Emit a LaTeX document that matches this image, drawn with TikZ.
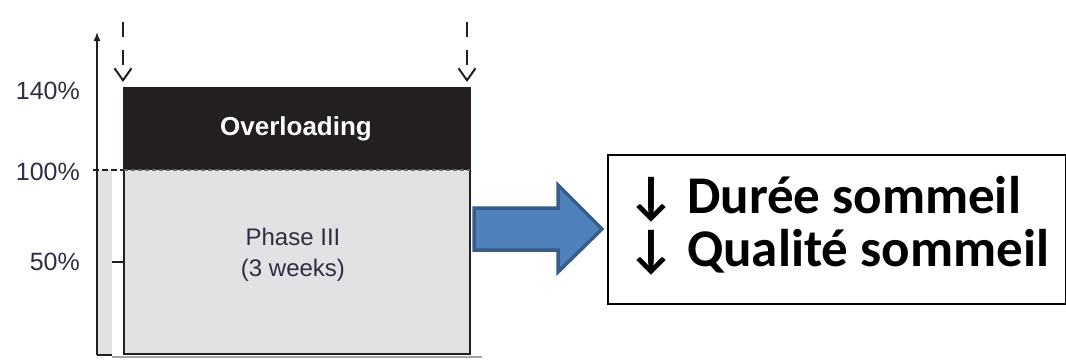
\documentclass[tikz,border=0pt]{standalone}
\usepackage{fontspec}
\setmainfont{Liberation Sans}
\newfontfamily\calib{Carlito}
\usetikzlibrary{arrows.meta}
\definecolor{lblc}{HTML}{2E2E44}
\definecolor{boxgrey}{HTML}{E2E2E4}
\definecolor{darkfill}{HTML}{231F20}
\definecolor{bluefill}{HTML}{4F81BD}
\definecolor{blueedge}{HTML}{385D8A}
\tikzset{
  pct/.style={anchor=east, text=lblc, font=\fontsize{25}{29}\selectfont, inner sep=0pt},
  phasetxt/.style={text=lblc, font=\fontsize{24}{28}\selectfont, inner sep=0pt, align=center},
  dasharrow/.style={line width=2.5pt, draw=darkfill, dash pattern=on 15pt off 13pt, -{Straight Barb[length=12pt,width=17pt,line width=2pt]}},
  resbox/.style={draw=black, line width=1.5pt, fill=white},
  restxt/.style={font=\calib\bfseries\fontsize{53}{60}\selectfont, anchor=base west, inner sep=0pt}
}
\begin{document}
\begin{tikzpicture}[x=1pt,y=-1pt]
\useasboundingbox (0,0) rectangle (1066,359);
% left grey strip
\fill[boxgrey] (97,170) rectangle (112,355);
% baseline shadow
\draw[gray!70, line width=1.5pt] (112,357) -- (482,357);
% main box
\fill[darkfill] (124,88) rectangle (470,170);
\fill[boxgrey] (124,170) rectangle (470,354);
\draw[darkfill, line width=1.5pt] (124,88) rectangle (470,354);
\draw[darkfill!70, line width=1.5pt, dash pattern=on 4pt off 3pt] (124,170) -- (470,170);
% axis
\coordinate (axbot) at (97,355);
\coordinate (axtop) at (97,32);
\draw[darkfill, line width=1.5pt, -{Latex[length=9pt,width=7pt]}] (axbot) -- (axtop);
\draw[darkfill, line width=1.5pt] (97,355) -- (112,355);
\draw[darkfill, line width=1.5pt] (112,262) -- (124,262);
\draw[darkfill, line width=2pt, dash pattern=on 6pt off 3pt] (93,170) -- (124,170);
% labels
\node[pct] (l140) at (80,91) {140\%};
\node[pct] (l100) at (80,172) {100\%};
\node[pct] (l50) at (80,262) {50\%};
\node[text=white, font=\bfseries\fontsize{26}{30}\selectfont, inner sep=0pt] (over) at (296,129) {Overloading};
\node[phasetxt] (ph1) at (293,237) {Phase III};
\node[phasetxt] (ph2) at (293,270) {(3 weeks)};
% dashed arrows
\coordinate (la1) at (123,22); \coordinate (la2) at (123,82);
\coordinate (ra1) at (467,22); \coordinate (ra2) at (467,82);
\draw[dasharrow] (la1) -- (la2);
\draw[dasharrow] (ra1) -- (ra2);
% block arrow
\draw[fill=bluefill, draw=blueedge, line width=3.5pt, line join=miter] (474,208) -- (558,208) -- (558,185) -- (602,229) -- (558,272) -- (558,250) -- (474,250) -- cycle;
% result box
\node[resbox, minimum width=458pt, minimum height=149pt, anchor=north west] (res) at (607,154) {};
\node[restxt] (t1) at (627,213) {↓ Durée sommeil};
\node[restxt] (t2) at (627,266) {↓ Qualité sommeil};
\end{tikzpicture}
\end{document}
